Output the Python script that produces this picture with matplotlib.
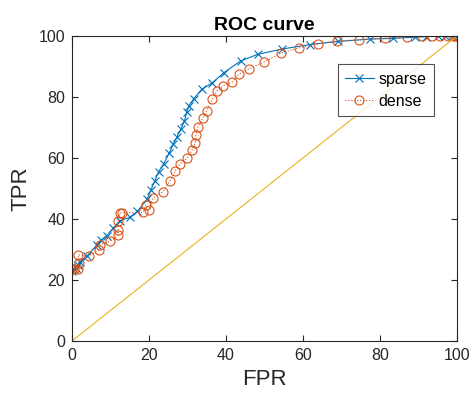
import matplotlib
matplotlib.use("Agg")
import matplotlib.pyplot as plt

plt.rcParams['font.family'] = ['Liberation Sans', 'DejaVu Sans']

# sparse ROC points (FPR, TPR in %)
sparse_fpr = [0, 0.5, 1, 1.5, 2, 4, 6.5, 7.5, 9, 10.7, 12.5, 15, 17, 19.5, 20.5,
              21.5, 22.5, 23.8, 25.2, 26.3, 27.3, 28.3, 29.2, 29.8, 30.3, 31.7,
              33.7, 36.3, 39.5, 43.8, 48.3, 54.5, 61.8, 69, 77.4, 83.4, 89, 92,
              95, 97, 99, 100]
sparse_tpr = [23, 23.5, 24, 25, 26, 28, 31.5, 33, 34.5, 37, 39.5, 40.5, 42.5,
              46.5, 49.5, 52.5, 55.5, 58, 61.5, 64.5, 67, 69.5, 72, 75, 77, 79.5,
              82.5, 84.5, 88, 91.8, 94, 95.7, 97.2, 98.2, 99, 99.2, 99.6, 99.8,
              100, 100, 100, 100]

# dense ROC points
dense_fpr = [0, 0.5, 1.5, 1.8, 1.6, 4.4, 7, 7.3, 10, 12, 12, 12, 12.5, 13, 18.5,
             19.2, 20, 21, 23.6, 25.5, 26.8, 28, 29.9, 31.2, 32, 32.2, 32.7, 34,
             35, 36.4, 37.7, 39.2, 41.6, 43.4, 46, 49.9, 54.3, 59, 63.9, 68.8,
             74.5, 81.3, 87, 91, 93.5, 95.6, 97.7, 99, 99.5, 100]
dense_tpr = [23.5, 23.5, 23.6, 25.7, 28.2, 27.9, 29.8, 31.5, 32.8, 34.6, 36.5,
             39.5, 42, 42, 42.2, 44.6, 43, 46.9, 48.9, 52.5, 55.7, 58, 60, 62.6,
             65, 67.5, 70.2, 73.1, 75.4, 79.3, 82, 83.6, 84.9, 87.5, 89.2, 91.5,
             94.4, 96.1, 97.4, 98.4, 98.7, 99.3, 99.7, 100, 100, 100, 100, 100,
             100, 100]

blue = '#0072BD'
orange = '#D95319'
yellow = '#EDB120'

fig = plt.figure(figsize=(4.72, 3.95), dpi=100)
ax = fig.add_axes([0.1525, 0.1367, 0.8155, 0.7722])

ax.plot(sparse_fpr, sparse_tpr, '-x', color=blue, lw=0.8, ms=6, mew=0.8, label='sparse')
ax.plot(dense_fpr, dense_tpr, ':o', color=orange, lw=0.8, ms=6.5, mew=0.8,
        mfc='none', label='dense')
ax.plot([0, 100], [0, 100], '-', color=yellow, lw=0.8)

ax.set_xlim(0, 100)
ax.set_ylim(0, 100)
ax.set_xticks([0, 20, 40, 60, 80, 100])
ax.set_yticks([0, 20, 40, 60, 80, 100])

dark = '#262626'
for sp in ax.spines.values():
    sp.set_color(dark)
    sp.set_linewidth(0.8)
ax.tick_params(direction='in', top=True, right=True, length=4, width=0.8,
               colors=dark, labelsize=11.5, pad=5)

ax.set_title('ROC curve', fontsize=14, fontweight='bold', pad=4)
ax.set_xlabel('FPR', fontsize=16, color=dark, labelpad=4)
ax.set_ylabel('TPR', fontsize=16, color=dark, labelpad=5)

leg = ax.legend(loc='upper right', bbox_to_anchor=(0.94, 0.907), fontsize=11.5,
                frameon=True, fancybox=False, borderpad=0.45, handlelength=1.8,
                handletextpad=0.3, labelspacing=0.45, borderaxespad=0)
leg.get_frame().set_edgecolor(dark)
leg.get_frame().set_linewidth(0.8)

fig.savefig('out.png', dpi=100)
